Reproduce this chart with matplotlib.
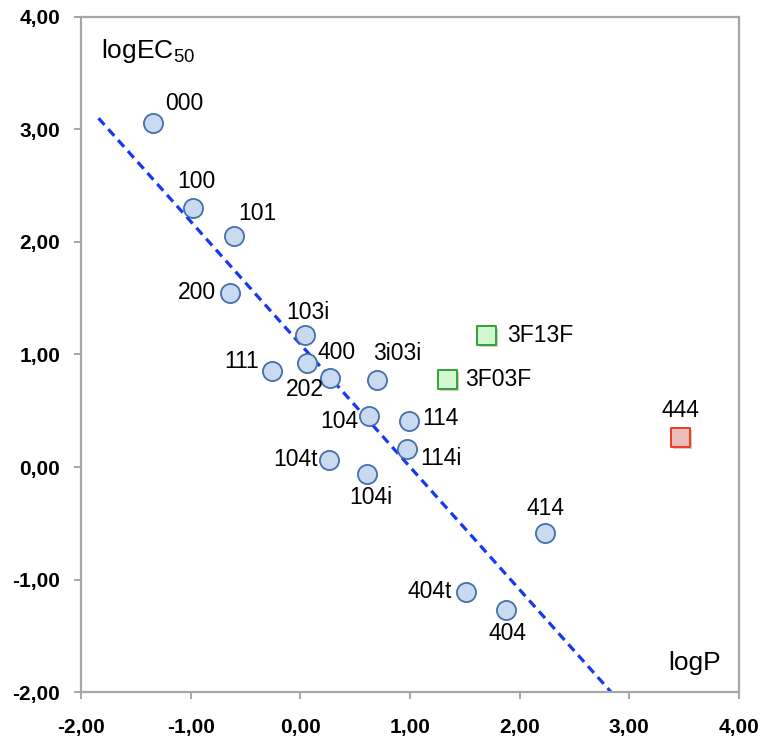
import numpy as np
import matplotlib
matplotlib.use("Agg")
import matplotlib.pyplot as plt
import matplotlib.patheffects as pe
from matplotlib.ticker import FuncFormatter

plt.rcParams['mathtext.fontset'] = 'custom'
plt.rcParams['mathtext.rm'] = 'Liberation Sans'

# compounds (logP, logEC50)
names = ['000', '100', '101', '200', '103i', '400', '111', '202', '3i03i',
         '104', '114', '114i', '104t', '104i', '414', '404t', '404']
logP = [-1.34, -0.975, -0.60, -0.64, 0.045, 0.06, -0.255, 0.27, 0.70,
        0.63, 0.99, 0.975, 0.265, 0.61, 2.23, 1.51, 1.88]
logEC = [3.06, 2.30, 2.055, 1.55, 1.17, 0.925, 0.855, 0.79, 0.775,
         0.455, 0.41, 0.16, 0.065, -0.06, -0.59, -1.11, -1.27]

# fluorinated compounds
f_names = ['3F13F', '3F03F']
f_logP = [1.70, 1.34]
f_logEC = [1.165, 0.78]

# outlier
o_names = ['444']
o_logP = [3.47]
o_logEC = [0.26]

# trend line end points
trend_x = [-1.84, 2.835]
trend_y = [3.10, -2.00]

# label offsets in pixels (dx, dy, ha)
offs = {
    '000': (31, 19, 'center'), '100': (3, 27, 'center'), '101': (23, 22, 'center'),
    '200': (-14, 0, 'right'), '103i': (3, 23, 'center'), '400': (30, 10, 'center'),
    '111': (-13, 9, 'right'), '202': (-6, -11, 'right'), '3i03i': (20, 26, 'center'),
    '104': (-11, -6, 'right'), '114': (13, 2, 'left'), '114i': (13, -9, 'left'),
    '104t': (-12, 0, 'right'), '104i': (4, -24, 'center'), '414': (1, 25, 'center'),
    '404t': (-14, 0, 'right'), '404': (1, -24, 'center'),
    '3F13F': (20, 0, 'left'), '3F03F': (18, 0, 'left'), '444': (0, 27, 'center'),
}

fig = plt.figure(figsize=(7.64, 7.37), dpi=100)
ax = fig.add_axes([0.106, 0.061, 0.861, 0.916])

ax.plot(trend_x, trend_y, color='#1438f5', lw=2.3, dashes=(2.8, 1.8),
        solid_capstyle='butt', dash_capstyle='butt', zorder=2)

shadow = [pe.SimplePatchShadow(offset=(1.5, -1.5), alpha=0.25), pe.Normal()]
ax.scatter(logP, logEC, s=190, marker='o', facecolor='#c9daf0',
           edgecolor='#4470aa', linewidth=1.3, zorder=3)
ax.scatter(f_logP, f_logEC, s=185, marker='s', facecolor='#d2f8d2',
           edgecolor='#35a035', linewidth=1.4, zorder=3, path_effects=shadow)
ax.scatter(o_logP, o_logEC, s=185, marker='s', facecolor='#e8bdbb',
           edgecolor='#f03a20', linewidth=1.4, zorder=3, path_effects=shadow)

for n, x, y in zip(names + f_names + o_names, logP + f_logP + o_logP,
                   logEC + f_logEC + o_logEC):
    dx, dy, ha = offs[n]
    ax.annotate(n, (x, y), xytext=(dx, dy), textcoords='offset pixels',
                ha=ha, va='center', fontsize=16.5, family='Liberation Sans')

ax.text(0.030, 0.939, r'$\mathregular{logEC_{50}}$', transform=ax.transAxes,
        fontsize=19, family='Liberation Sans', ha='left', va='baseline')
ax.text(0.973, 0.033, 'logP', transform=ax.transAxes,
        fontsize=19, family='Liberation Sans', ha='right', va='baseline')

ax.set_xlim(-2, 4)
ax.set_ylim(-2, 4)
ax.set_xticks(np.arange(-2, 5, 1))
ax.set_yticks(np.arange(-2, 5, 1))
fmt = FuncFormatter(lambda v, p: ('%.2f' % v).replace('.', ','))
ax.xaxis.set_major_formatter(fmt)
ax.yaxis.set_major_formatter(fmt)

for s in ax.spines.values():
    s.set_color('#a6a6a6')
    s.set_linewidth(1.6)
ax.tick_params(direction='out', length=5, width=1.4, color='#a6a6a6',
               labelsize=15, pad=10)
ax.tick_params(axis='x', pad=14)
for lab in ax.get_xticklabels() + ax.get_yticklabels():
    lab.set_fontweight('bold')
    lab.set_family('Liberation Sans')

fig.savefig('out.png', dpi=100)
